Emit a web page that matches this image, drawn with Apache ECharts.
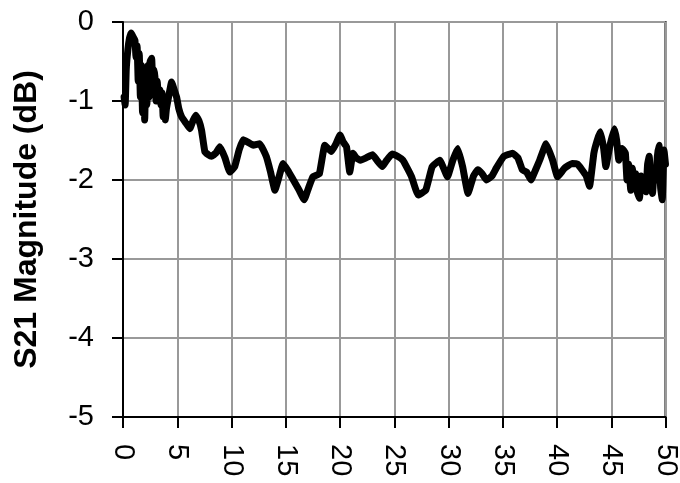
<!DOCTYPE html>
<html>
<head>
<meta charset="utf-8">
<script src="https://cdn.jsdelivr.net/npm/echarts@6/dist/echarts.min.js"></script>
<style>
html,body{margin:0;padding:0;background:#fff;}
#chart{width:680px;height:483px;}
</style>
</head>
<body>
<div id="chart"></div>
<script>
// Frequency (GHz) and S21 magnitude (dB)
var freq = [0.1,0.2,0.3,0.45,0.6,0.75,0.9,1.1,1.2,1.3,1.4,1.5,1.6,1.7,1.8,1.9,2.0,2.1,2.2,2.3,2.4,2.5,2.64,2.75,2.85,2.94,3.05,3.15,3.25,3.4,3.5,3.6,3.7,3.8,3.9,4.0,4.2,4.48,4.7,4.94,5.15,5.4,5.8,6.16,6.45,6.7,7.0,7.24,7.54,7.85,8.16,8.55,8.92,9.4,9.84,10.3,10.7,11.07,11.5,12.0,12.6,13.2,13.6,14.0,14.4,14.75,15.2,15.7,16.2,16.7,17.1,17.5,18.1,18.6,19.2,19.6,20.0,20.3,20.6,20.9,21.2,21.5,21.9,22.4,23.0,23.4,23.9,24.3,24.8,25.3,25.8,26.2,26.6,27.2,27.9,28.5,29.2,29.9,30.4,30.85,31.3,31.8,32.3,32.7,33.1,33.5,34.0,34.4,35.1,35.9,36.4,36.8,37.2,37.6,38.0,38.4,39.0,39.6,40.05,40.7,41.4,41.9,42.3,42.7,43.0,43.4,43.7,44.0,44.3,44.5,44.9,45.3,45.5,45.7,46.0,46.3,46.45,46.6,46.8,46.95,47.1,47.25,47.4,47.6,47.75,47.9,48.05,48.2,48.35,48.5,48.65,48.8,48.95,49.1,49.25,49.4,49.55,49.7,49.86,50.0];
var s21 = [-0.95,-1.05,-0.6,-0.35,-0.2,-0.14,-0.18,-0.23,-0.45,-0.3,-0.75,-0.4,-0.95,-0.55,-1.15,-0.6,-1.24,-0.65,-1.05,-0.55,-0.95,-0.5,-0.46,-0.8,-0.6,-0.69,-1.0,-0.75,-0.9,-0.86,-1.05,-0.9,-1.2,-0.95,-1.24,-1.1,-0.95,-0.76,-0.85,-0.95,-1.1,-1.2,-1.28,-1.35,-1.25,-1.18,-1.25,-1.37,-1.64,-1.68,-1.7,-1.66,-1.58,-1.72,-1.9,-1.83,-1.62,-1.49,-1.52,-1.56,-1.54,-1.7,-1.9,-2.13,-1.95,-1.79,-1.88,-2.0,-2.12,-2.25,-2.1,-1.96,-1.92,-1.56,-1.64,-1.55,-1.43,-1.52,-1.58,-1.9,-1.66,-1.72,-1.75,-1.72,-1.68,-1.75,-1.83,-1.75,-1.67,-1.7,-1.75,-1.85,-1.96,-2.19,-2.13,-1.83,-1.75,-1.96,-1.75,-1.6,-1.83,-2.17,-1.95,-1.87,-1.92,-2.0,-1.95,-1.85,-1.7,-1.66,-1.72,-1.87,-1.9,-2.0,-1.88,-1.75,-1.54,-1.75,-1.96,-1.85,-1.79,-1.8,-1.87,-1.95,-2.08,-1.66,-1.5,-1.39,-1.6,-1.83,-1.55,-1.35,-1.5,-1.75,-1.6,-1.66,-2.0,-1.8,-2.13,-1.85,-2.05,-1.92,-2.15,-2.23,-1.95,-2.1,-1.96,-2.15,-1.8,-1.7,-2.05,-2.17,-1.9,-2.0,-1.7,-1.56,-2.1,-2.25,-1.62,-1.8];
var xTicks = {min:0, max:50, step:5};
var yTicks = {min:-5, max:0, step:1};
var yTitle = 'S21 Magnitude (dB)';

var data = freq.map(function(f,i){return [f, s21[i]];});
var chart = echarts.init(document.getElementById('chart'), null, {renderer:'canvas'});
var font = 'Liberation Sans, Arial, sans-serif';
chart.setOption({
  backgroundColor:'#fff',
  animation:false,
  grid:{left:123, right:14, top:22, bottom:66, show:true, borderColor:'#000', borderWidth:2, backgroundColor:'transparent'},
  xAxis:{
    type:'value', min:xTicks.min, max:xTicks.max, interval:xTicks.step,
    axisLine:{show:true, onZero:false, lineStyle:{color:'#000', width:2}},
    axisTick:{show:true, length:11, lineStyle:{color:'#000', width:2}},
    axisLabel:{rotate:-90, margin:27, fontSize:29, color:'#000', fontFamily:font},
    splitLine:{show:true, lineStyle:{color:'#999', width:2}}
  },
  yAxis:{
    type:'value', min:yTicks.min, max:yTicks.max, interval:yTicks.step,
    name:yTitle, nameLocation:'middle', nameGap:80,
    nameTextStyle:{fontSize:32, fontWeight:'bold', color:'#000', fontFamily:font},
    axisLine:{show:true, onZero:false, lineStyle:{color:'#000', width:2}},
    axisTick:{show:true, length:11, lineStyle:{color:'#000', width:2}},
    axisLabel:{margin:29, fontSize:29, color:'#000', fontFamily:font},
    splitLine:{show:true, lineStyle:{color:'#999', width:2}}
  },
  series:[{
    type:'line', data:data, showSymbol:false, symbol:'none', smooth:0.1,
    lineStyle:{color:'#000', width:7, join:'round', cap:'round'}
  }]
});
</script>
</body>
</html>
